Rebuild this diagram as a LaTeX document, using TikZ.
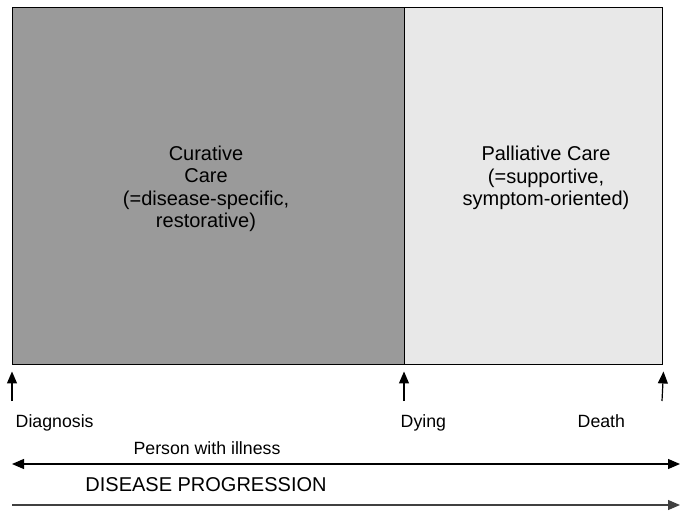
\documentclass[tikz,border=0pt]{standalone}
\usepackage{fontspec}
\setmainfont{Liberation Sans}
\usetikzlibrary{arrows.meta,positioning,calc}
\definecolor{curegray}{HTML}{9A9A9A}
\definecolor{palgray}{HTML}{E8E8E8}
\tikzset{
  carebox/.style={
    draw,
    rectangle,
    line width=1.1pt,
    anchor=north west,
    minimum height=267.75pt,
    inner sep=0pt
  },
  boxtext/.style={
    align=center,
    font=\fontsize{15}{16.9}\selectfont
  },
  eventlabel/.style={
    font=\fontsize{13.3}{15}\selectfont
  },
  uparrow/.style={-{Triangle[length=9pt,width=7.5pt]},line width=0.9pt},
  timeline/.style={{Triangle[length=9pt,width=7.5pt]}-{Triangle[length=9pt,width=7.5pt]},line width=0.9pt},
  progress/.style={-{Triangle[length=9pt,width=7.5pt]},line width=0.9pt,black!75}
}

\begin{document}
\begin{tikzpicture}[x=0.75pt,y=-0.75pt]
\useasboundingbox (0,0) rectangle (682,515);

\node[carebox, fill=curegray, minimum width=294pt] (cure) at (12,7) {};
\node[carebox, fill=palgray, minimum width=193.5pt] (pal) at (404,7) {};

\node[boxtext] (curetext) at (206,189) {Curative\\Care\\(=disease-specific,\\restorative)};
\node[boxtext] (paltext) at (546,178) {Palliative Care\\(=supportive,\\symptom-oriented)};

% events along the bottom edge
\coordinate (diagtail) at (12,401);
\coordinate (dyingtail) at (404,401);
\coordinate (deathtail) at (662,401);
\draw[uparrow] (diagtail) -- ([yshift=-4.5pt]cure.south west);
\draw[uparrow] (dyingtail) -- ([yshift=-4.5pt]pal.south west);
\draw[uparrow] (deathtail) -- ([yshift=-4.5pt]pal.south east);

\node[eventlabel, anchor=base west] (diag) at (11,427) {Diagnosis};
\node[eventlabel, anchor=base west] (dying) at (396,427) {Dying};
\node[eventlabel, anchor=base west] (death) at (573,427) {Death};

\node[eventlabel] (person) at (207,448) {Person with illness};
\coordinate (illstart) at (12,464);
\coordinate (illend) at (680,464);
\draw[timeline] (illstart) -- (illend);

\node[boxtext] (progtext) at (206,485) {DISEASE PROGRESSION};
\coordinate (progstart) at (12,505);
\coordinate (progend) at (680,505);
\draw[progress] (progstart) -- (progend);
\end{tikzpicture}
\end{document}
